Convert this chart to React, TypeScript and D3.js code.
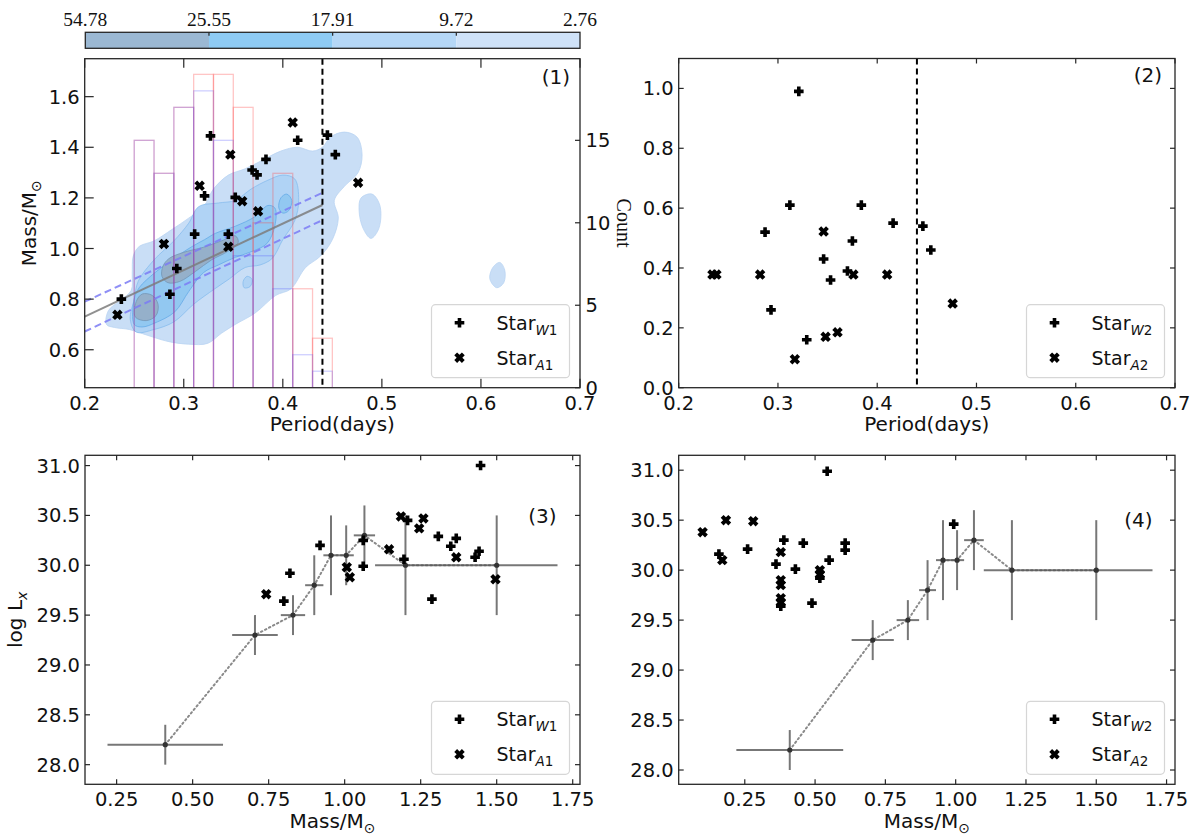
import React from "react";
import * as d3 from "d3";

// colour bar boundary levels
const cbarLabels = ["54.78", "25.55", "17.91", "9.72", "2.76"];

// histograms (right axis of panel 1)
const histEdges = [0.25, 0.27, 0.29, 0.31, 0.33, 0.35, 0.37, 0.39, 0.41, 0.43, 0.45];
const histRed = [15, 13, 17, 19, 19, 17, 10, 13, 6, 3];
const histBlue = [15, 13, 17, 18, 15, 8, 8, 6, 2, 1];

// panel 1: period vs primary mass
const w1Period = [0.237, 0.327, 0.321, 0.311, 0.293, 0.286, 0.352, 0.345, 0.383, 0.369, 0.374, 0.415, 0.445, 0.453];
const w1Mass = [0.8, 1.445, 1.208, 1.057, 0.921, 0.819, 1.202, 1.057, 1.352, 1.31, 1.291, 1.428, 1.448, 1.371];
const a1Period = [0.233, 0.28, 0.316, 0.347, 0.359, 0.375, 0.345, 0.41, 0.476];
const a1Mass = [0.738, 1.018, 1.248, 1.371, 1.187, 1.147, 1.007, 1.498, 1.26];

// panel 2: period vs secondary mass
const w2Period = [0.321, 0.312, 0.384, 0.287, 0.416, 0.446, 0.454, 0.346, 0.375, 0.37, 0.353, 0.293, 0.329];
const w2Mass = [0.99, 0.61, 0.61, 0.52, 0.55, 0.54, 0.46, 0.43, 0.49, 0.39, 0.36, 0.26, 0.16];
const a2Period = [0.234, 0.238, 0.282, 0.346, 0.376, 0.41, 0.476, 0.36, 0.348, 0.317];
const a2Mass = [0.378, 0.378, 0.378, 0.522, 0.378, 0.378, 0.281, 0.185, 0.17, 0.095];

// panel 3: primary mass vs log Lx
const w1LxMass = [1.447, 1.207, 1.195, 1.308, 1.349, 1.367, 1.429, 1.442, 1.287, 1.061, 1.061, 0.919, 0.82, 0.8];
const w1Lx = [31.0, 30.45, 30.06, 30.29, 30.19, 30.27, 30.08, 30.14, 29.66, 30.25, 29.99, 30.2, 29.92, 29.64];
const a1LxMass = [0.742, 1.185, 1.259, 1.245, 1.146, 1.367, 1.007, 1.017, 1.496];
const a1Lx = [29.71, 30.49, 30.47, 30.37, 30.16, 30.08, 29.98, 29.88, 29.86];

// panel 4: secondary mass vs log Lx
const w2LxMass = [0.543, 0.993, 0.389, 0.458, 0.607, 0.607, 0.26, 0.158, 0.55, 0.361, 0.43, 0.517, 0.489, 0.378];
const w2Lx = [30.99, 30.46, 30.3, 30.27, 30.27, 30.2, 30.21, 30.16, 30.1, 30.06, 30.01, 29.92, 29.67, 29.64];
const a2LxMass = [0.1, 0.183, 0.28, 0.17, 0.378, 0.378, 0.378, 0.378, 0.378, 0.517, 0.517];
const a2Lx = [30.38, 30.5, 30.49, 30.1, 30.18, 29.9, 29.85, 29.72, 29.68, 30.0, 29.96];

// binned single-star relation (panels 3 and 4)
const binMass = [0.41, 0.705, 0.83, 0.9, 0.955, 1.005, 1.065, 1.2, 1.5];
const binMassErr = [0.19, 0.075, 0.04, 0.03, 0.025, 0.025, 0.035, 0.1, 0.2];
const binLx = [28.2, 29.3, 29.5, 29.8, 30.1, 30.1, 30.3, 30.0, 30.0];
const binLxErr = [0.2, 0.2, 0.2, 0.3, 0.4, 0.3, 0.3, 0.5, 0.5];

// fit and band in panel 1
const fitPeriod = [0.2, 0.44];
const fitMass = [0.731, 1.172];
const fitUpper = [0.79, 1.22];
const fitLower = [0.672, 1.112];
const periodCut = 0.44;

// density contour outlines, [period, mass]
const kdeOuter = [
  [0.222, 0.7], [0.224, 0.755], [0.236, 0.795], [0.247, 0.835], [0.248, 0.9], [0.249, 0.97], [0.255, 1.008],
  [0.27, 1.03], [0.288, 1.075], [0.305, 1.12], [0.32, 1.165], [0.33, 1.235], [0.345, 1.29], [0.362, 1.315],
  [0.38, 1.35], [0.398, 1.385], [0.415, 1.4], [0.43, 1.385], [0.44, 1.4], [0.448, 1.44], [0.462, 1.46],
  [0.475, 1.44], [0.48, 1.37], [0.476, 1.3], [0.462, 1.245], [0.452, 1.19], [0.456, 1.12], [0.45, 1.035],
  [0.438, 0.97], [0.423, 0.925], [0.408, 0.84], [0.393, 0.815], [0.372, 0.745], [0.352, 0.7], [0.338, 0.665],
  [0.324, 0.625], [0.305, 0.622], [0.285, 0.632], [0.265, 0.655], [0.245, 0.68], [0.23, 0.688],
];
const kdeOuterIslandA = [[0.479, 1.2], [0.49, 1.215], [0.498, 1.17], [0.497, 1.08], [0.489, 1.04], [0.481, 1.08], [0.477, 1.15]];
const kdeOuterIslandB = [[0.609, 0.88], [0.612, 0.925], [0.619, 0.945], [0.624, 0.915], [0.623, 0.865], [0.616, 0.845]];
const kdeMid = [
  [0.246, 0.72], [0.25, 0.8], [0.254, 0.87], [0.27, 0.955], [0.29, 1.03], [0.305, 1.1], [0.315, 1.165],
  [0.335, 1.18], [0.352, 1.19], [0.368, 1.235], [0.385, 1.27], [0.4, 1.29], [0.412, 1.275], [0.416, 1.19],
  [0.412, 1.11], [0.4, 1.035], [0.389, 0.96], [0.377, 0.935], [0.362, 0.925], [0.346, 0.88], [0.331, 0.84],
  [0.31, 0.78], [0.29, 0.71], [0.27, 0.68], [0.252, 0.67],
];
const kdeMidIsland = [[0.36, 0.87], [0.364, 0.89], [0.369, 0.878], [0.367, 0.85], [0.361, 0.845]];
const kdeInner = [
  [0.25, 0.7], [0.25, 0.8], [0.255, 0.845], [0.271, 0.905], [0.288, 0.955], [0.308, 1.007], [0.321, 1.035],
  [0.332, 1.06], [0.352, 1.088], [0.372, 1.126], [0.385, 1.17], [0.392, 1.16], [0.392, 1.09], [0.384, 1.02],
  [0.37, 0.99], [0.352, 0.965], [0.335, 0.935], [0.32, 0.905], [0.305, 0.83], [0.291, 0.75], [0.271, 0.706],
  [0.258, 0.69],
];
const kdeInnerIsland = [[0.396, 1.16], [0.398, 1.2], [0.404, 1.215], [0.409, 1.19], [0.406, 1.15], [0.4, 1.14]];
const kdeCoreA = [[0.251, 0.73], [0.252, 0.79], [0.258, 0.82], [0.268, 0.815], [0.274, 0.78], [0.272, 0.735], [0.262, 0.715]];
const kdeCoreB = [
  [0.279, 0.93], [0.285, 0.96], [0.3, 0.985], [0.32, 1.005], [0.338, 1.03], [0.352, 1.05], [0.355, 1.025],
  [0.345, 0.99], [0.328, 0.955], [0.312, 0.91], [0.296, 0.87], [0.284, 0.865], [0.278, 0.89],
];

const kdeShapes = [
  { level: 0, pts: kdeOuter }, { level: 0, pts: kdeOuterIslandA }, { level: 0, pts: kdeOuterIslandB },
  { level: 1, pts: kdeMid }, { level: 1, pts: kdeMidIsland },
  { level: 2, pts: kdeInner }, { level: 2, pts: kdeInnerIsland },
  { level: 3, pts: kdeCoreA }, { level: 3, pts: kdeCoreB },
];

const levelFill = ["#c9def6", "#b0d3f5", "#92c8f1", "#95b0ca"];
const levelStroke = ["#bad4f2", "#88bded", "#66abe7", "#7596b5"];
const cbarColors = ["#9bb8d3", "#8ecbf4", "#b5d7f6", "#cfe2f8"];

const FONT = "DejaVu Sans, Verdana, sans-serif";
const SERIF = "Liberation Serif, Times New Roman, serif";
const AX = "#262626";

const P1 = { left: 84.7, right: 580, top: 58.7, bottom: 387.7 };
const P2 = { left: 678.7, right: 1175, top: 58.5, bottom: 387.7 };
const P3 = { left: 85, right: 580, top: 455.3, bottom: 784.3 };
const P4 = { left: 678.7, right: 1175, top: 455.3, bottom: 784.3 };

const plusPath = "M-1.8,-4.8H1.8V-1.8H4.8V1.8H1.8V4.8H-1.8V1.8H-4.8V-1.8H-1.8Z";
const xPath = "M-2,-5.4H2V-2H5.4V2H2V5.4H-2V2H-5.4V-2H-2Z";

function Plus({ x, y }: { x: number; y: number }) {
  return <path d={plusPath} transform={`translate(${x},${y})`} fill="#000" />;
}
function Cross({ x, y }: { x: number; y: number }) {
  return <path d={xPath} transform={`translate(${x},${y}) rotate(45)`} fill="#000" />;
}

function Axes({ x, y, xTicks, xFmt, yTicks, yFmt, tick, mirrorY = true }: any) {
  const [x0, x1] = x.range();
  const [yb, yt] = y.range();
  return (
    <g fontFamily={FONT} fontSize={19.5} fill="#111">
      <rect x={x0} y={yt} width={x1 - x0} height={yb - yt} fill="none" stroke={AX} strokeWidth={1.3} />
      {xTicks.map((t: number) => (
        <g key={"x" + t}>
          <line x1={x(t)} x2={x(t)} y1={yb} y2={yb - tick} stroke={AX} strokeWidth={1.2} />
          <line x1={x(t)} x2={x(t)} y1={yt} y2={yt + tick} stroke={AX} strokeWidth={1.2} />
          <text x={x(t)} y={yb + 22} textAnchor="middle">{xFmt(t)}</text>
        </g>
      ))}
      {yTicks.map((t: number) => (
        <g key={"y" + t}>
          <line x1={x0} x2={x0 + tick} y1={y(t)} y2={y(t)} stroke={AX} strokeWidth={1.2} />
          {mirrorY && <line x1={x1} x2={x1 - tick} y1={y(t)} y2={y(t)} stroke={AX} strokeWidth={1.2} />}
          <text x={x0 - 5} y={y(t)} dy="0.36em" textAnchor="end">{yFmt(t)}</text>
        </g>
      ))}
    </g>
  );
}

function Legend({ p, w, a }: { p: any; w: string; a: string }) {
  const bx = p.right - 10.5 - 138;
  const by = p.bottom - 10 - 73;
  const rows = [
    { kind: "p", sub: w },
    { kind: "x", sub: a },
  ];
  return (
    <g>
      <rect x={bx} y={by} width={138} height={73} rx={4} fill="#fff" fillOpacity={0.85} stroke="#d6d6d6" strokeWidth={1.2} />
      {rows.map((r, i) => {
        const cy = by + 18 + i * 35;
        return (
          <g key={i}>
            {r.kind === "p" ? <Plus x={bx + 28} y={cy} /> : <Cross x={bx + 28} y={cy} />}
            <text x={bx + 65} y={cy + 7} fontFamily={FONT} fontSize={19} fill="#111">
              Star
              <tspan fontSize={13.5} dy={5} fontStyle="italic">{r.sub[0]}</tspan>
              <tspan fontSize={13.5}>{r.sub.slice(1)}</tspan>
            </text>
          </g>
        );
      })}
    </g>
  );
}

function BinnedRelation({ x, y }: any) {
  const pts = binMass.map((m, i) => [m, binLx[i]]);
  const line = d3.line<number[]>().x((d) => x(d[0])).y((d) => y(d[1]));
  return (
    <g>
      <path d={line(pts) || ""} fill="none" stroke="#8a8a8a" strokeWidth={2} strokeDasharray="1.5,3" strokeLinecap="round" />
      {binMass.map((m, i) => (
        <g key={i} stroke="#555" strokeOpacity={0.8} strokeWidth={2}>
          <line x1={x(m - binMassErr[i])} x2={x(m + binMassErr[i])} y1={y(binLx[i])} y2={y(binLx[i])} />
          <line x1={x(m)} x2={x(m)} y1={y(binLx[i] - binLxErr[i])} y2={y(binLx[i] + binLxErr[i])} />
          <circle cx={x(m)} cy={y(binLx[i])} r={2.6} fill="#333" stroke="none" />
        </g>
      ))}
    </g>
  );
}

export default function App() {
  const x1 = d3.scaleLinear().domain([0.2, 0.7]).range([P1.left, P1.right]);
  const y1 = d3.scaleLinear().domain([0.45, 1.75]).range([P1.bottom, P1.top]);
  const c1 = d3.scaleLinear().domain([0, 19.95]).range([P1.bottom, P1.top]);
  const x2 = d3.scaleLinear().domain([0.2, 0.7]).range([P2.left, P2.right]);
  const y2 = d3.scaleLinear().domain([0, 1.1]).range([P2.bottom, P2.top]);
  const x3 = d3.scaleLinear().domain([0.146, 1.774]).range([P3.left, P3.right]);
  const y3 = d3.scaleLinear().domain([27.803, 31.103]).range([P3.bottom, P3.top]);
  const x4 = d3.scaleLinear().domain([0.015, 1.78]).range([P4.left, P4.right]);
  const y4 = d3.scaleLinear().domain([27.857, 31.149]).range([P4.bottom, P4.top]);

  const cb = d3.scalePoint<string>().domain(cbarLabels).range([85.3, 580]);
  const cbTop = 32.3;
  const cbBot = 48.3;

  const contour = d3
    .line<number[]>()
    .x((d) => x1(d[0]))
    .y((d) => y1(d[1]))
    .curve(d3.curveCatmullRomClosed.alpha(0.5));
  const seg1 = d3.line<number[]>().x((d) => x1(d[0])).y((d) => y1(d[1]));

  const periodTicks = [0.2, 0.3, 0.4, 0.5, 0.6, 0.7];
  const massTicks = [0.6, 0.8, 1.0, 1.2, 1.4, 1.6];
  const countTicks = [0, 5, 10, 15];
  const ratioTicks = [0, 0.2, 0.4, 0.6, 0.8, 1.0];
  const lmTicks = [0.25, 0.5, 0.75, 1.0, 1.25, 1.5, 1.75];
  const lxTicks = [28.0, 28.5, 29.0, 29.5, 30.0, 30.5, 31.0];
  const f1 = (v: number) => v.toFixed(1);
  const f2 = (v: number) => v.toFixed(2);

  return (
    <svg width={1200} height={839} style={{ position: "absolute", left: 0, top: 0, background: "#fff" }}>
      <defs>
        <clipPath id="clip1">
          <rect x={P1.left} y={P1.top} width={P1.right - P1.left} height={P1.bottom - P1.top} />
        </clipPath>
      </defs>

      {/* colour bar */}
      <g>
        {cbarColors.map((c, i) => {
          const xa = cb(cbarLabels[i]) as number;
          const xb = cb(cbarLabels[i + 1]) as number;
          return <rect key={i} x={xa} y={cbTop} width={xb - xa} height={cbBot - cbTop} fill={c} />;
        })}
        <rect x={85.3} y={cbTop} width={580 - 85.3} height={cbBot - cbTop} fill="none" stroke={AX} strokeWidth={1.3} />
        {cbarLabels.map((l, i) => (
          <g key={l}>
            {i > 0 && i < cbarLabels.length - 1 && (
              <line x1={cb(l)} x2={cb(l)} y1={cbTop} y2={cbTop + 3.5} stroke={AX} strokeWidth={1.2} />
            )}
            <text x={cb(l)} y={26} textAnchor="middle" fontFamily={SERIF} fontSize={19.5} fill="#111">{l}</text>
          </g>
        ))}
      </g>

      {/* panel 1 */}
      <g clipPath="url(#clip1)">
        {kdeShapes.map((s, i) => (
          <path key={i} d={contour(s.pts) || ""} fill={levelFill[s.level]} stroke={levelStroke[s.level]} strokeWidth={0.8} />
        ))}
        {histEdges.slice(0, -1).map((e, i) => (
          <rect key={"r" + i} x={x1(e)} y={c1(histRed[i])} width={x1(histEdges[i + 1]) - x1(e)} height={c1(0) - c1(histRed[i])}
            fill="none" stroke="#ff4040" strokeOpacity={0.3} strokeWidth={1.3} />
        ))}
        {histEdges.slice(0, -1).map((e, i) => (
          <rect key={"b" + i} x={x1(e)} y={c1(histBlue[i])} width={x1(histEdges[i + 1]) - x1(e)} height={c1(0) - c1(histBlue[i])}
            fill="none" stroke="#4545ff" strokeOpacity={0.26} strokeWidth={1.3} />
        ))}
        <path d={seg1(fitPeriod.map((p, i) => [p, fitMass[i]])) || ""} stroke="#7d7d7d" strokeOpacity={0.85} strokeWidth={2} fill="none" />
        <path d={seg1(fitPeriod.map((p, i) => [p, fitUpper[i]])) || ""} stroke="#7b7bf5" strokeOpacity={0.85} strokeWidth={2} strokeDasharray="7,4" fill="none" />
        <path d={seg1(fitPeriod.map((p, i) => [p, fitLower[i]])) || ""} stroke="#7b7bf5" strokeOpacity={0.85} strokeWidth={2} strokeDasharray="7,4" fill="none" />
        {w1Period.map((p, i) => <Plus key={"w" + i} x={x1(p)} y={y1(w1Mass[i])} />)}
        {a1Period.map((p, i) => <Cross key={"a" + i} x={x1(p)} y={y1(a1Mass[i])} />)}
        <line x1={x1(periodCut)} x2={x1(periodCut)} y1={P1.top} y2={P1.bottom} stroke="#000" strokeWidth={2} strokeDasharray="6,4" />
      </g>
      <Axes x={x1} y={y1} xTicks={periodTicks} xFmt={f1} yTicks={massTicks} yFmt={f1} tick={9} mirrorY={false} />
      <g fontFamily={FONT} fontSize={19.5} fill="#111">
        {countTicks.map((t) => (
          <g key={t}>
            <line x1={P1.right} x2={P1.right - 5} y1={c1(t)} y2={c1(t)} stroke={AX} strokeWidth={1.2} />
            <text x={P1.right + 5.5} y={c1(t)} dy="0.36em">{t}</text>
          </g>
        ))}
      </g>
      <text transform="translate(617,223) rotate(90)" textAnchor="middle" fontFamily={SERIF} fontSize={20} fill="#111">Count</text>
      <Legend p={P1} w="W1" a="A1" />
      <text x={570} y={84} textAnchor="end" fontFamily={FONT} fontSize={20} fill="#111">(1)</text>

      {/* panel 2 */}
      <g>
        {w2Period.map((p, i) => <Plus key={"w" + i} x={x2(p)} y={y2(w2Mass[i])} />)}
        {a2Period.map((p, i) => <Cross key={"a" + i} x={x2(p)} y={y2(a2Mass[i])} />)}
        <line x1={x2(periodCut)} x2={x2(periodCut)} y1={P2.top} y2={P2.bottom} stroke="#000" strokeWidth={2} strokeDasharray="6,4" />
      </g>
      <Axes x={x2} y={y2} xTicks={periodTicks} xFmt={f1} yTicks={ratioTicks} yFmt={f1} tick={5} />
      <Legend p={P2} w="W2" a="A2" />
      <text x={1162} y={82} textAnchor="end" fontFamily={FONT} fontSize={20} fill="#111">(2)</text>

      {/* panel 3 */}
      <BinnedRelation x={x3} y={y3} />
      {w1LxMass.map((m, i) => <Plus key={"w3" + i} x={x3(m)} y={y3(w1Lx[i])} />)}
      {a1LxMass.map((m, i) => <Cross key={"a3" + i} x={x3(m)} y={y3(a1Lx[i])} />)}
      <Axes x={x3} y={y3} xTicks={lmTicks} xFmt={f2} yTicks={lxTicks} yFmt={f1} tick={5} />
      <Legend p={P3} w="W1" a="A1" />
      <text x={x3(1.65)} y={y3(30.5)} dy="0.36em" textAnchor="middle" fontFamily={FONT} fontSize={20} fill="#111">(3)</text>

      {/* panel 4 */}
      <BinnedRelation x={x4} y={y4} />
      {w2LxMass.map((m, i) => <Plus key={"w4" + i} x={x4(m)} y={y4(w2Lx[i])} />)}
      {a2LxMass.map((m, i) => <Cross key={"a4" + i} x={x4(m)} y={y4(a2Lx[i])} />)}
      <Axes x={x4} y={y4} xTicks={lmTicks} xFmt={f2} yTicks={lxTicks} yFmt={f1} tick={5} />
      <Legend p={P4} w="W2" a="A2" />
      <text x={x4(1.65)} y={y4(30.5)} dy="0.36em" textAnchor="middle" fontFamily={FONT} fontSize={20} fill="#111">(4)</text>

      {/* axis titles */}
      <g fontFamily={FONT} fontSize={20} fill="#111" textAnchor="middle">
        <text x={(P1.left + P1.right) / 2} y={431}>Period(days)</text>
        <text x={(P2.left + P2.right) / 2} y={431}>Period(days)</text>
        <text x={(P3.left + P3.right) / 2} y={828}>
          Mass/M<tspan fontSize={14} dy={5}>⊙</tspan>
        </text>
        <text x={(P4.left + P4.right) / 2} y={828}>
          Mass/M<tspan fontSize={14} dy={5}>⊙</tspan>
        </text>
        <text transform={`translate(36,${(P1.top + P1.bottom) / 2}) rotate(-90)`}>
          Mass/M<tspan fontSize={14} dy={5}>⊙</tspan>
        </text>
        <text transform={`translate(22,${(P3.top + P3.bottom) / 2}) rotate(-90)`}>
          log L<tspan fontSize={14} dy={5} fontStyle="italic">x</tspan>
        </text>
      </g>
    </svg>
  );
}
